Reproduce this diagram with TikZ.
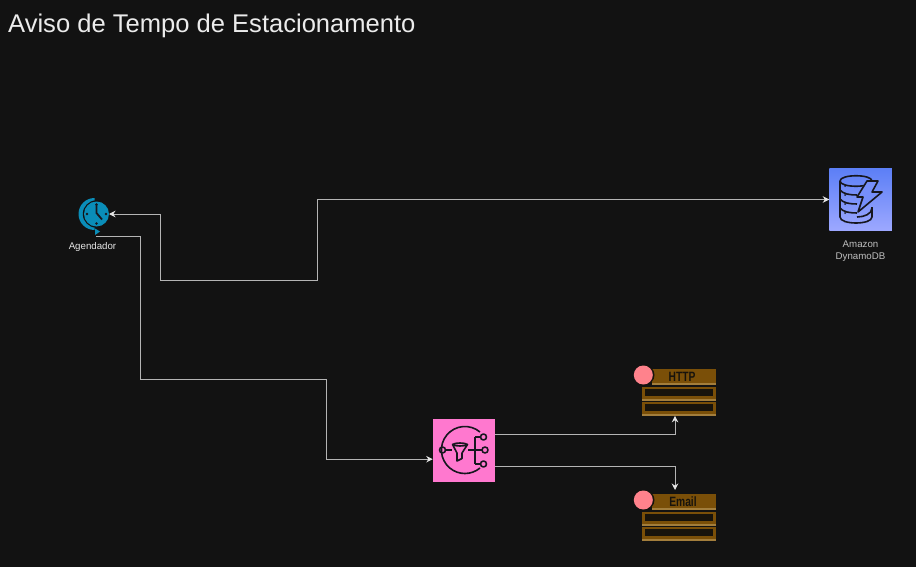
\documentclass[tikz,border=0pt]{standalone}
\usepackage{fontspec}
\setmainfont{Liberation Sans}
\newfontfamily\queuefont[FakeStretch=0.76]{Liberation Sans}
\usetikzlibrary{arrows.meta,positioning,shapes}
\definecolor{bgdark}{HTML}{121212}
\definecolor{wirecol}{HTML}{B4B4B4}
\definecolor{tipcol}{HTML}{E6E6E6}
\definecolor{clockcol}{HTML}{0A8DB8}
\definecolor{inkcol}{HTML}{17171F}
\definecolor{snspink}{HTML}{FF78CF}
\definecolor{dynotop}{HTML}{5C7FF6}
\definecolor{dynobot}{HTML}{9DA8FF}
\definecolor{queuebrown}{HTML}{7A4F08}
\definecolor{queueedge}{HTML}{A37E3C}
\definecolor{queuedark}{HTML}{17130C}
\definecolor{queuepink}{HTML}{FF828C}
\tikzset{
  wire/.style={draw=wirecol, line width=1pt, -{Stealth[length=6.5pt,width=6.5pt,color=tipcol]}},
  awsbox/.style={rectangle, minimum size=62.5pt, inner sep=0pt, outer sep=0pt},
  caption/.style={font=\fontsize{9.7}{12}\selectfont, text=#1, align=center, inner sep=0pt},
  inkline/.style={draw=inkcol, line width=1.6pt, line join=round},
  queuehead/.style={rectangle, minimum width=64pt, minimum height=16pt, inner sep=0pt, outer sep=0pt, fill=queuebrown},
  queuerow/.style={rectangle, minimum width=74pt, minimum height=14pt, inner sep=0pt, outer sep=0pt, fill=queuebrown},
  queuetext/.style={font=\queuefont\bfseries\fontsize{13.5}{14}\selectfont, text=queuedark, inner sep=0pt}
}
% fila: cabecalho, duas linhas e circulo
\newcommand{\queueicon}[4]{
  \node[queuehead] (#1-head) at (684,#3) {};
  \draw[queueedge, line width=2pt] ([yshift=1pt]#1-head.south west) -- ([yshift=1pt]#1-head.south east);
  \node[queuetext] (#1-text) at (#2,#3) {#4};
  \foreach \rowname/\rowdy in {row1/16.8, row2/31.8} {
    \node[queuerow] (#1-\rowname) at (679,#3+\rowdy) {};
    \fill[queuedark] (645,#3+\rowdy-4.6) rectangle (713,#3+\rowdy+1.8);
    \draw[queueedge, line width=2pt] ([yshift=1pt]#1-\rowname.south west) -- ([yshift=1pt]#1-\rowname.south east);
  }
  \fill[queuedark] (644.5,#3-2) circle (10);
  \node[circle, fill=queuepink, minimum size=19pt, inner sep=0pt, outer sep=0pt] (#1-dot) at (643.3,#3-2) {};
}
\begin{document}
\begin{tikzpicture}[x=1pt, y=-1pt]
    \useasboundingbox[fill=bgdark] (0,0) rectangle (916,567);

    % titulo
    \node[anchor=base west, inner sep=0pt, text=white!92!black, font=\fontsize{25.56}{30}\selectfont] (title) at (8,32.6) {Aviso de Tempo de Estacionamento};

    % agendador
    \fill[clockcol] (94.5,198) arc (-90:-270:16) -- cycle;
    \fill[bgdark] (96.5,214) circle (13.7);
    \fill[clockcol] (95,228.5) -- (100,231.5) -- (95,235) -- cycle;
    \node[circle, fill=clockcol, minimum size=25pt, inner sep=0pt, outer sep=0pt] (clock) at (96.5,214) {};
    \draw[inkcol, line width=1.8pt] (96.5,204) -- (96.5,213) -- (102,219.5);
    \foreach \dx/\dy in {0/-9.5, 0/9.5, -9.5/0, 9.5/0}
        \fill[inkcol] (96.5+\dx,214+\dy) circle (1.3);
    \coordinate (clock-out) at (96,236);
    \node[caption=white!90!black] (clock-label) at (92.5,247) {Agendador};

    % dynamodb
    \node[awsbox, top color=dynotop, bottom color=dynobot] (dynamo) at (860.5,199.5) {};
    \node[caption=white!75!black, below=10pt of dynamo] (dynamo-label) {Amazon\\DynamoDB};
    \draw[inkline, fill=none] (840,181) .. controls (840,174) and (872,174) .. (872,181) .. controls (872,188) and (840,188) .. (840,181) -- (840,217) .. controls (840,225) and (872,225) .. (872,217) -- (872,207);
    \foreach \yy in {190,199,208}
        \draw[inkline] (840,\yy) .. controls (843,\yy+4) and (850,\yy+5) .. (857,\yy+5);
    \draw[inkline] (857,217) .. controls (864,217) and (872,214) .. (872,208);
    \foreach \yy in {186,195,204,213}
        \fill[inkcol] (845,\yy) circle (1);
    \draw[inkline, fill=dynotop!60!dynobot] (867,181) -- (878,181) -- (872,192) -- (882,192) -- (858,212) -- (863,197) -- (857,197) -- cycle;

    % sns
    \node[awsbox, fill=snspink] (sns) at (464,450.5) {};
    \draw[inkline] (480,432) arc (-50:-310:23.5);
    \draw[inkline] (475,437) -- (475,464);
    \draw[inkline] (475,437) -- (480.5,437);
    \draw[inkline] (475,464) -- (480.5,464);
    \draw[inkline] (468,450) -- (482,450);
    \draw[inkline] (445,450) -- (452,450);
    \draw[inkline] (452.5,444.5) .. controls (455,442.5) and (465,442.5) .. (467.5,444.5) .. controls (465,446.5) and (455,446.5) .. (452.5,444.5) -- (457,453) -- (457,461) -- (462,458.5) -- (462,453) -- (467.5,444.5);
    \foreach \cx/\cy in {442.5/450, 483.5/437, 485/450, 483.5/464}
        \draw[inkline] (\cx,\cy) circle (3);

    % filas
    \queueicon{http}{682}{377}{HTTP}
    \queueicon{email}{683}{502}{Email}

    % conexoes
    \draw[wire] (clock-out) -| (140.3,379) -- (326.3,379) |- ([yshift=-8.7pt]sns.west);
    \draw[wire, {Stealth[length=6.5pt,width=6.5pt,color=tipcol]}-{Stealth[length=6.5pt,width=6.5pt,color=tipcol]}] (clock.east) -| (160.3,280) -- (317.3,280) |- (dynamo.west);
    \draw[wire] ([yshift=16pt]sns.east) -| ([xshift=-4pt]http-row2.south);
    \draw[wire] ([yshift=-15.5pt]sns.east) -| ([xshift=-9pt,yshift=4pt]email-head.north);
\end{tikzpicture}
\end{document}
